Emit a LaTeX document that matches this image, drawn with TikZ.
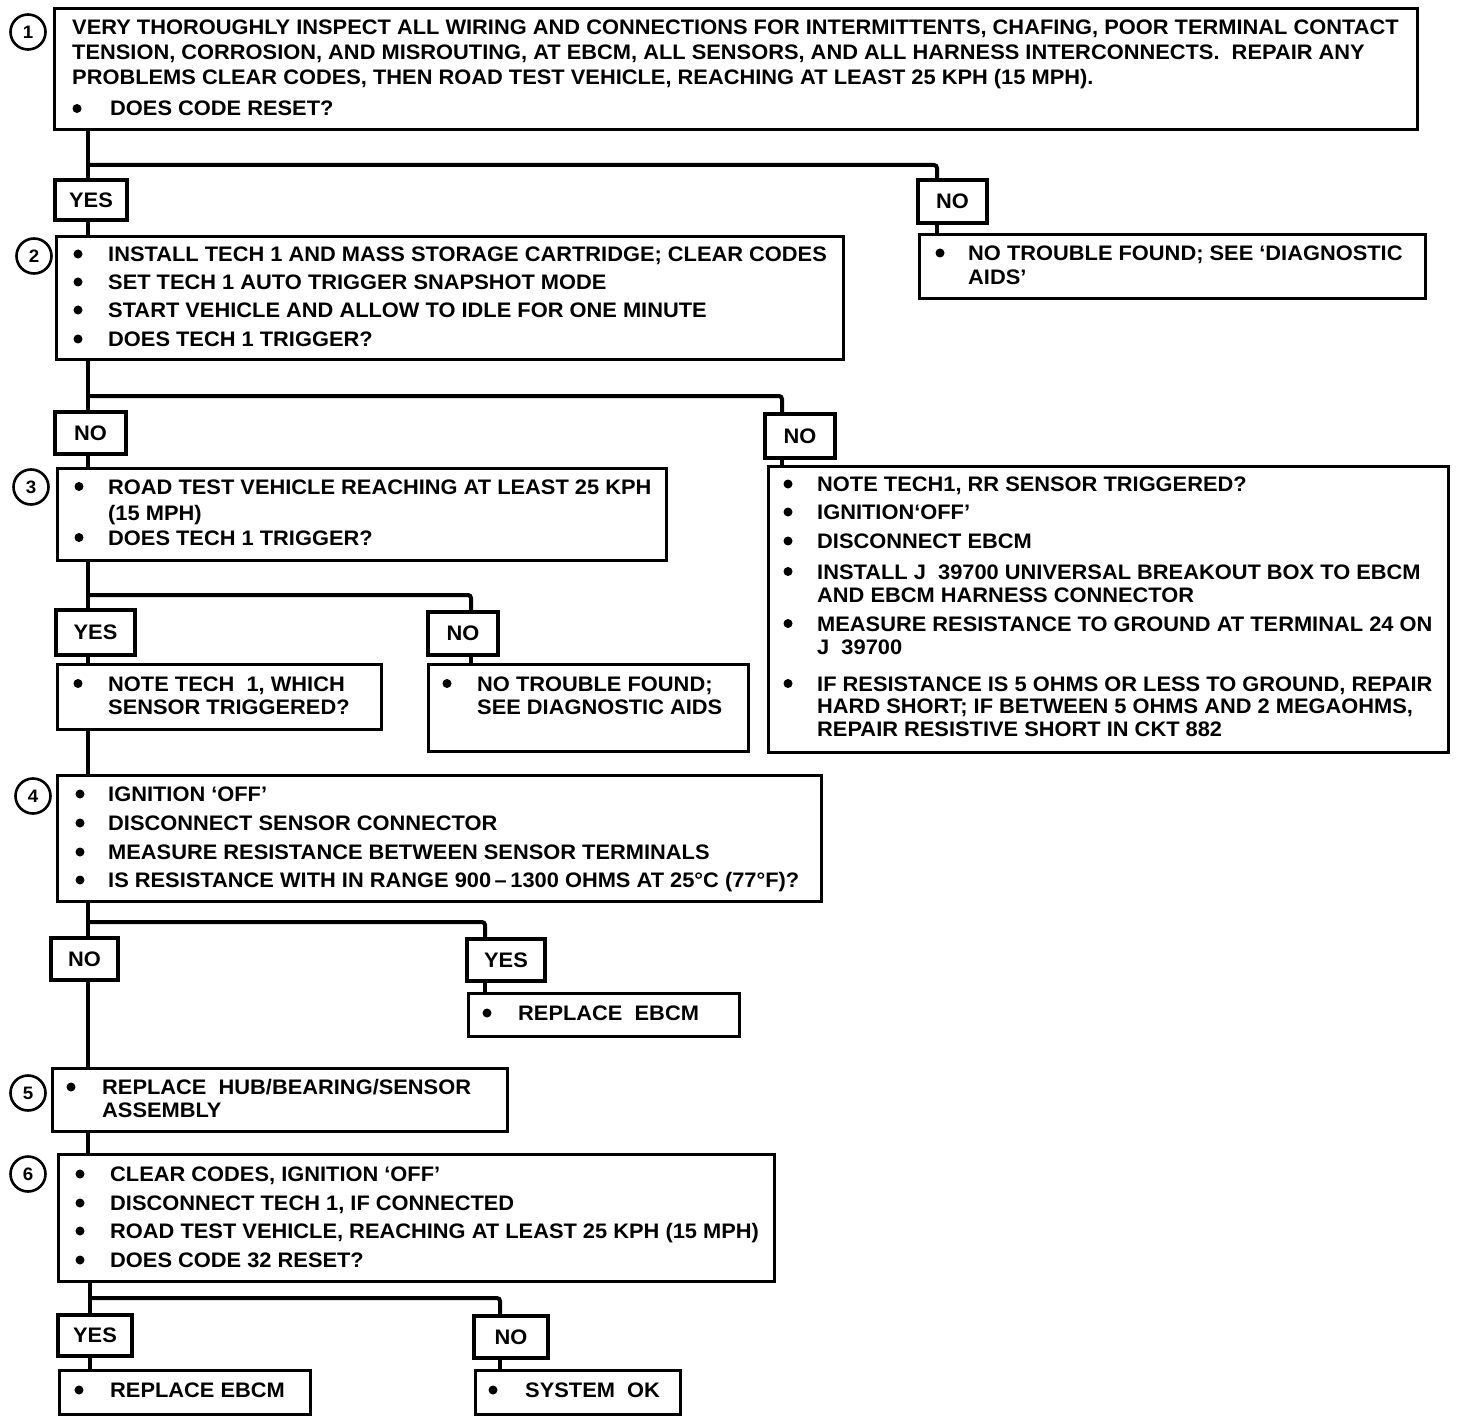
\documentclass[tikz,border=0pt]{standalone}
\usepackage{fontspec}
\setmainfont{Liberation Sans}[FakeStretch=1.04]
\tikzset{
  box/.style={draw, line width=3.2pt, inner sep=0pt, anchor=north west},
  lab/.style={draw, line width=3.2pt, inner sep=0pt, font=\fontsize{21}{21}\bfseries\selectfont},
  txt/.style={inner sep=0pt, anchor=west, text height=15pt, text depth=0pt, font=\fontsize{21}{21}\bfseries\selectfont},
  dot/.style={circle, fill, inner sep=0pt, minimum size=9pt},
  num/.style={circle, draw, line width=2.6pt, inner sep=0pt, minimum size=35pt, font=\fontsize{18}{18}\bfseries\selectfont},
  conn/.style={line width=4pt, line join=miter, rounded corners=3pt}
}
\newcommand\bx[5]{\node[box, minimum width={#4-#2}, minimum height={#5-#3}] (#1) at (#2,#3) {};}
\newcommand\lbx[6]{\node[lab, minimum width={#4-#2}, minimum height={#5-#3}] (#1) at ({(#2+#4)/2},{(#3+#5)/2}) {#6};}
\newcommand\tl[4]{\node[txt] (#1) at (#2,#3) {#4};}
\newcommand\bl[3]{\node[dot] (#1) at (#2,#3) {};}
\begin{document}
\begin{tikzpicture}[x=1pt,y=-1pt]
\useasboundingbox (0,0) rectangle (1472,1420);
% ---------- step 1
\bx{b1}{53}{7}{1416}{128}
\node[num] (c1) at (28,32) {1};
\tl{b1a}{72}{27.5}{VERY THOROUGHLY INSPECT ALL WIRING AND CONNECTIONS FOR INTERMITTENTS, CHAFING, POOR TERMINAL CONTACT}
\tl{b1b}{72}{52}{TENSION, CORROSION, AND MISROUTING, AT EBCM, ALL SENSORS, AND ALL HARNESS INTERCONNECTS.\ \ REPAIR ANY}
\tl{b1c}{72}{77}{PROBLEMS CLEAR CODES, THEN ROAD TEST VEHICLE, REACHING AT LEAST 25 KPH (15 MPH).}
\bl{b1d0}{77}{108.5}\tl{b1d}{110}{108.5}{DOES CODE RESET?}
\lbx{yes1}{55}{180}{127}{220}{YES}
\lbx{no1}{918}{180}{987}{223}{NO}
\bx{ntf1}{918}{233}{1424}{297}
\bl{ntf1a0}{940}{253}\tl{ntf1a}{968}{253}{NO TROUBLE FOUND; SEE `DIAGNOSTIC}
\tl{ntf1b}{968}{277}{AIDS'}
% ---------- step 2
\bx{b2}{55}{235}{842}{358}
\node[num] (c2) at (34,256) {2};
\bl{b2a0}{78}{254}\tl{b2a}{108}{254}{INSTALL TECH 1 AND MASS STORAGE CARTRIDGE; CLEAR CODES}
\bl{b2b0}{78}{282}\tl{b2b}{108}{282}{SET TECH 1 AUTO TRIGGER SNAPSHOT MODE}
\bl{b2c0}{78}{310}\tl{b2c}{108}{310}{START VEHICLE AND ALLOW TO IDLE FOR ONE MINUTE}
\bl{b2d0}{78}{339}\tl{b2d}{108}{339}{DOES TECH 1 TRIGGER?}
\lbx{no2}{55}{412}{126}{454}{NO}
\lbx{no3}{765}{414}{835}{458}{NO}
% ---------- step 3
\bx{b3}{56}{467}{665}{559}
\node[num] (c3) at (31,487) {3};
\bl{b3a0}{79}{486.5}\tl{b3a}{108}{486.5}{ROAD TEST VEHICLE REACHING AT LEAST 25 KPH}
\tl{b3b}{108}{513}{(15 MPH)}
\bl{b3c0}{79}{537.5}\tl{b3c}{108}{537.5}{DOES TECH 1 TRIGGER?}
% ---------- right box
\bx{rb}{767}{465}{1447}{751}
\bl{rba0}{788}{484}\tl{rba}{817}{484}{NOTE TECH1, RR SENSOR TRIGGERED?}
\bl{rbb0}{788}{512}\tl{rbb}{817}{512}{IGNITION`OFF'}
\bl{rbc0}{788}{541}\tl{rbc}{817}{541}{DISCONNECT EBCM}
\bl{rbd0}{788}{571.5}\tl{rbd}{817}{571.5}{INSTALL J\ \ 39700 UNIVERSAL BREAKOUT BOX TO EBCM}
\tl{rbe}{817}{595}{AND EBCM HARNESS CONNECTOR}
\bl{rbf0}{788}{623.5}\tl{rbf}{817}{623.5}{MEASURE RESISTANCE TO GROUND AT TERMINAL 24 ON}
\tl{rbg}{817}{646.5}{J\ \ 39700}
\bl{rbh0}{788}{683.5}\tl{rbh}{817}{683.5}{IF RESISTANCE IS 5 OHMS OR LESS TO GROUND, REPAIR}
\tl{rbi}{817}{706}{HARD SHORT; IF BETWEEN 5 OHMS AND 2 MEGAOHMS,}
\tl{rbj}{817}{729}{REPAIR RESISTIVE SHORT IN CKT 882}
% ---------- step 3 outcomes
\lbx{yes3}{56}{610}{135}{655}{YES}
\lbx{no4}{428}{612}{498}{655}{NO}
\bx{note}{56}{663}{380}{728}
\bl{notea0}{78}{683.5}\tl{notea}{108}{683.5}{NOTE TECH\ \ 1, WHICH}
\tl{noteb}{108}{706.5}{SENSOR TRIGGERED?}
\bx{ntf2}{427}{663}{747}{750}
\bl{ntf2a0}{447}{683.5}\tl{ntf2a}{477}{683.5}{NO TROUBLE FOUND;}
\tl{ntf2b}{477}{706.5}{SEE DIAGNOSTIC AIDS}
% ---------- step 4
\bx{b4}{56}{774}{820}{900}
\node[num] (c4) at (33,796) {4};
\bl{b4a0}{80}{794}\tl{b4a}{108}{794}{IGNITION `OFF'}
\bl{b4b0}{80}{823}\tl{b4b}{108}{823}{DISCONNECT SENSOR CONNECTOR}
\bl{b4c0}{80}{852}\tl{b4c}{108}{852}{MEASURE RESISTANCE BETWEEN SENSOR TERMINALS}
\bl{b4d0}{80}{880}\tl{b4d}{108}{880}{IS RESISTANCE WITH IN RANGE 900\,–\,1300 OHMS AT 25°C (77°F)?}
\lbx{no5}{51}{938}{118}{980}{NO}
\lbx{yes5}{467}{939}{545}{981}{YES}
\bx{rep1}{467}{992}{738}{1035}
\bl{rep1a0}{487}{1013}\tl{rep1a}{518}{1013}{REPLACE\ \ EBCM}
% ---------- step 5
\bx{b5}{51}{1067}{506}{1130}
\node[num] (c5) at (28,1093) {5};
\bl{b5a0}{71}{1087}\tl{b5a}{102}{1087}{REPLACE\ \ HUB/BEARING/SENSOR}
\tl{b5b}{102}{1110}{ASSEMBLY}
% ---------- step 6
\bx{b6}{57}{1153}{773}{1280}
\node[num] (c6) at (28,1174) {6};
\bl{b6a0}{80}{1174}\tl{b6a}{110}{1174}{CLEAR CODES, IGNITION `OFF'}
\bl{b6b0}{80}{1203}\tl{b6b}{110}{1203}{DISCONNECT TECH 1, IF CONNECTED}
\bl{b6c0}{80}{1231}\tl{b6c}{110}{1231}{ROAD TEST VEHICLE, REACHING AT LEAST 25 KPH (15 MPH)}
\bl{b6d0}{80}{1260}\tl{b6d}{110}{1260}{DOES CODE 32 RESET?}
\lbx{yes6}{58}{1315}{132}{1356}{YES}
\lbx{no6}{474}{1316}{548}{1358}{NO}
\bx{rep2}{58}{1369}{309}{1413}
\bl{rep2a0}{79}{1390}\tl{rep2a}{110}{1390}{REPLACE EBCM}
\bx{sok}{474}{1369}{679}{1413}
\bl{soka0}{493}{1390}\tl{soka}{525}{1390}{SYSTEM\ \ OK}
% ---------- junction coordinates
\coordinate (j1) at (88,165);  \coordinate (k1) at (937,165);
\coordinate (j2) at (88,396);  \coordinate (k2) at (782,396);
\coordinate (j3) at (88,595);  \coordinate (k3) at (471,595);
\coordinate (j4) at (88,922);  \coordinate (k4) at (485,922);
\coordinate (j6) at (90,1298); \coordinate (k6) at (500,1298);
% ---------- connectors
\draw[conn] (b1.south -| j1) -- (yes1.north -| j1);
\draw[conn] (j1) -- (k1) -- (no1.north -| k1);
\draw[conn] (yes1.south -| j1) -- (b2.north -| j1);
\draw[conn] (no1.south -| k1) -- (ntf1.north -| k1);
\draw[conn] (b2.south -| j2) -- (no2.north -| j2);
\draw[conn] (j2) -- (k2) -- (no3.north -| k2);
\draw[conn] (no2.south -| j2) -- (b3.north -| j2);
\draw[conn] (no3.south -| k2) -- (rb.north -| k2);
\draw[conn] (b3.south -| j3) -- (yes3.north -| j3);
\draw[conn] (j3) -- (k3) -- (no4.north -| k3);
\draw[conn] (yes3.south -| j3) -- (note.north -| j3);
\draw[conn] (no4.south -| k3) -- (ntf2.north -| k3);
\draw[conn] (note.south -| j3) -- (b4.north -| j3);
\draw[conn] (b4.south -| j4) -- (no5.north -| j4);
\draw[conn] (j4) -- (k4) -- (yes5.north -| k4);
\draw[conn] (yes5.south -| k4) -- (rep1.north -| k4);
\draw[conn] (no5.south -| j4) -- (b5.north -| j4);
\draw[conn] (b5.south -| j4) -- (b6.north -| j4);
\draw[conn] (b6.south -| j6) -- (yes6.north -| j6);
\draw[conn] (j6) -- (k6) -- (no6.north -| k6);
\draw[conn] (yes6.south -| j6) -- (rep2.north -| j6);
\draw[conn] (no6.south -| k6) -- (sok.north -| k6);
\end{tikzpicture}
\end{document}
